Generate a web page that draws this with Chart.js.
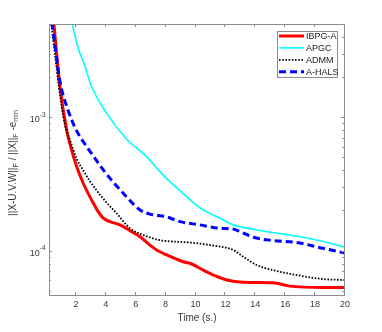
<!DOCTYPE html>
<html lang="en">
<head>
<meta charset="UTF-8">
<title>Convergence</title>
<script src="https://cdn.jsdelivr.net/npm/chart.js"></script>
<style>
  html, body { margin: 0; padding: 0; background: #fff; }
  #wrap { width: 382px; height: 332px; }
</style>
</head>
<body>
<div id="wrap"><canvas id="chart" width="382" height="332"></canvas></div>
<script>
  const seriesNames = ['IBPG-A', 'APGC', 'ADMM', 'A-HALS']

  // IBPG-A
  const ibpgTime = [0.35, 0.53, 0.71, 0.93, 1.38, 1.71, 2.05, 2.49, 3.05, 3.49, 3.83, 4.28, 4.95, 5.62, 6.29, 6.95, 7.4, 7.84, 9.18, 9.63, 10.52, 11.2, 12.09, 13.65, 15.2, 16.3, 18.55, 20]
  const ibpgErr = [8.3e-3, 5.0e-3, 3.0e-3, 1.7e-3, 8.04e-4, 5.69e-4, 4.27e-4, 3.2e-4, 2.4e-4, 1.96e-4, 1.75e-4, 1.65e-4, 1.56e-4, 1.41e-4, 1.27e-4, 1.10e-4, 1.01e-4, 9.55e-5, 8.26e-5, 8.04e-5, 7.14e-5, 6.56e-5, 6.03e-5, 5.78e-5, 5.75e-5, 5.42e-5, 5.30e-5, 5.30e-5]

  // APGC
  const apgcTime = [1.5, 1.75, 2.2, 2.49, 3.05, 4.06, 5.4, 6.73, 7.4, 8.07, 8.96, 10.3, 11.64, 12.53, 14.1, 15.88, 17.0, 18.55, 20]
  const apgcErr = [6.6e-3, 5.0e-3, 3.16e-3, 2.63e-3, 1.7e-3, 1.07e-3, 6.84e-4, 5.07e-4, 4.17e-4, 3.47e-4, 2.82e-4, 2.09e-4, 1.75e-4, 1.56e-4, 1.43e-4, 1.33e-4, 1.27e-4, 1.17e-4, 1.06e-4]

  // ADMM
  const admmTime = [0.2, 0.35, 0.6, 0.86, 1.27, 1.6, 2.05, 2.5, 2.94, 3.83, 4.73, 5.62, 6.5, 7.62, 9.63, 10.97, 12.53, 13.2, 14.1, 15.2, 16.77, 18.55, 20]
  const admmErr = [6.9e-3, 5.0e-3, 2.95e-3, 1.7e-3, 8.7e-4, 6.76e-4, 4.9e-4, 3.98e-4, 3.31e-4, 2.45e-4, 1.9e-4, 1.47e-4, 1.31e-4, 1.20e-4, 1.15e-4, 1.10e-4, 1.01e-4, 8.99e-5, 7.8e-5, 7.14e-5, 6.56e-5, 6.12e-5, 6.03e-5]

  // A-HALS
  const ahalsTime = [0.2, 0.41, 0.95, 1.45, 2.05, 2.6, 3.1, 3.83, 5.17, 6.29, 6.95, 8.07, 8.96, 10.3, 11.64, 12.53, 12.98, 13.87, 15.2, 16.77, 18.55, 20]
  const ahalsErr = [7.4e-3, 5.0e-3, 1.82e-3, 1.15e-3, 7.9e-4, 6.3e-4, 5.25e-4, 4.03e-4, 2.69e-4, 2.02e-4, 1.88e-4, 1.79e-4, 1.65e-4, 1.56e-4, 1.47e-4, 1.45e-4, 1.39e-4, 1.26e-4, 1.19e-4, 1.15e-4, 1.04e-4, 9.6e-5]

  const xTicks = [2, 4, 6, 8, 10, 12, 14, 16, 18, 20]
  const yMajor = [1e-4, 1e-3]
  const yLabels = [['10', '-4'], ['10', '-3']]

  const pts = (t, v) => t.map((x, i) => ({ x: x, y: v[i] }))

  const FONT = '"Liberation Sans", Arial, Helvetica, sans-serif'
  const AXIS = '#8c8c8c'
  const TEXT = '#3a3a3a'

  // text with subscripts, parts = [[text, shift]]
  function richWidth(ctx, parts, size) {
    let w = 0
    parts.forEach(p => {
      ctx.font = (p[1] ? size * 0.72 : size) + 'px ' + FONT
      w += ctx.measureText(p[0]).width
    })
    return w
  }
  function drawRich(ctx, parts, x, y, size) {
    let cx = x
    parts.forEach(p => {
      ctx.font = (p[1] ? size * 0.72 : size) + 'px ' + FONT
      ctx.fillText(p[0], cx, y + p[1])
      cx += ctx.measureText(p[0]).width
    })
  }

  const frame = {
    id: 'frame',
    afterDatasetsDraw(chart) {
      const { ctx, chartArea: a, scales: { x, y } } = chart
      ctx.save()
      ctx.strokeStyle = AXIS
      ctx.lineWidth = 1
      ctx.strokeRect(a.left + 0.5, a.top + 0.5, a.right - a.left - 1, a.bottom - a.top)

      ctx.beginPath()
      xTicks.forEach(v => {
        const px = Math.round(x.getPixelForValue(v)) - 0.5
        ctx.moveTo(px, a.bottom); ctx.lineTo(px, a.bottom - 3)
        ctx.moveTo(px, a.top); ctx.lineTo(px, a.top + 3)
      })
      // log minor ticks
      for (let d = -5; d <= -3; d++) {
        for (let m = 1; m <= 9; m++) {
          const v = m * Math.pow(10, d)
          if (v < y.min || v > y.max) continue
          const py = Math.round(y.getPixelForValue(v)) + 0.5
          const len = m === 1 ? 3 : 1.8
          ctx.moveTo(a.left, py); ctx.lineTo(a.left + len, py)
          ctx.moveTo(a.right - 1, py); ctx.lineTo(a.right - 1 - len, py)
        }
      }
      ctx.stroke()

      ctx.fillStyle = TEXT
      ctx.textBaseline = 'middle'
      ctx.textAlign = 'center'
      ctx.font = '9px ' + FONT
      xTicks.forEach(v => ctx.fillText(String(v), x.getPixelForValue(v), a.bottom + 9.5))
      ctx.font = '10px ' + FONT
      ctx.fillText('Time (s.)', (a.left + a.right) / 2, a.bottom + 23)

      ctx.textAlign = 'left'
      yMajor.forEach((v, i) => {
        const py = y.getPixelForValue(v)
        ctx.font = '9px ' + FONT
        const w0 = ctx.measureText(yLabels[i][0]).width
        ctx.font = '6.5px ' + FONT
        const w1 = ctx.measureText(yLabels[i][1]).width
        const x0 = a.left - 3.5 - w0 - w1
        ctx.font = '9px ' + FONT
        ctx.fillText(yLabels[i][0], x0, py + 2.5)
        ctx.font = '6.5px ' + FONT
        ctx.fillText(yLabels[i][1], x0 + w0, py - 2.3)
      })

      // y axis title
      const title = [['||X-U.V.W||', 0], ['F', 3], [' / ||X||', 0], ['F', 3], [' -e', 0], ['min', 3]]
      ctx.save()
      ctx.translate(13, 163)
      ctx.rotate(-Math.PI / 2)
      const tw = richWidth(ctx, title, 10)
      drawRich(ctx, title, -tw / 2, 0, 10)
      ctx.restore()

      // legend
      const lx = 277, ly = 31, lw = 60, lh = 46
      ctx.fillStyle = '#fff'
      ctx.fillRect(lx, ly, lw, lh)
      ctx.strokeStyle = AXIS
      ctx.strokeRect(lx + 0.5, ly + 0.5, lw, lh)
      chart.data.datasets.forEach((ds, i) => {
        const ry = 36 + i * 11.9
        ctx.strokeStyle = ds.borderColor
        ctx.lineWidth = ds.borderWidth
        ctx.setLineDash(ds.borderDash || [])
        ctx.beginPath()
        ctx.moveTo(279, ry); ctx.lineTo(304, ry)
        ctx.stroke()
        ctx.setLineDash([])
        ctx.fillStyle = '#222'
        ctx.font = '9px ' + FONT
        ctx.textAlign = 'left'
        ctx.fillText(ds.label, 306, ry + 0.5)
      })
      ctx.restore()
    }
  }

  window.onload = () => {
    const chart = document.getElementById('chart')
    new Chart(chart, {
      type: 'line',
      data: {
        datasets: [
          { label: seriesNames[0], data: pts(ibpgTime, ibpgErr), borderColor: '#ff0000', borderWidth: 3, order: 3 },
          { label: seriesNames[1], data: pts(apgcTime, apgcErr), borderColor: '#00ffff', borderWidth: 1.6, order: 2 },
          { label: seriesNames[2], data: pts(admmTime, admmErr), borderColor: '#000000', borderWidth: 1.8, borderDash: [1.6, 1.6], order: 1 },
          { label: seriesNames[3], data: pts(ahalsTime, ahalsErr), borderColor: '#0000ff', borderWidth: 3, borderDash: [7, 4], order: 0 }
        ]
      },
      options: {
        responsive: false,
        animation: false,
        layout: { padding: { left: 49, top: 24, right: 37, bottom: 37 } },
        elements: {
          point: { radius: 0, hoverRadius: 0 },
          line: { cubicInterpolationMode: 'monotone', fill: false }
        },
        plugins: { legend: { display: false }, tooltip: { enabled: false } },
        scales: {
          x: { type: 'linear', min: 0.2, max: 20, display: false },
          y: { type: 'logarithmic', min: 4.65e-5, max: 5e-3, display: false }
        }
      },
      plugins: [frame]
    })
  }
</script>
</body>
</html>
